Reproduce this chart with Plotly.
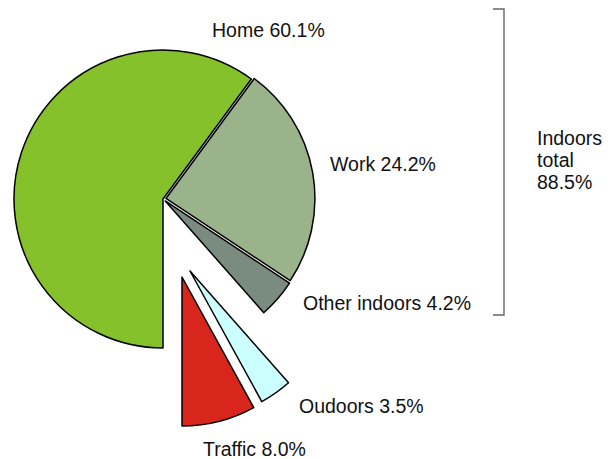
import plotly.graph_objects as go

# Share of time spent per micro-environment (%)
categories = ["Home", "Work", "Other indoors", "Oudoors", "Traffic"]
shares = [60.1, 24.2, 4.2, 3.5, 8.0]
colors = ["#85C12A", "#9BB38A", "#7A8C80", "#CCFFFF", "#D9261C"]
indoor_categories = ["Home", "Work", "Other indoors"]

W, H = 611, 459
R = 149  # pie radius in px


def domain_for(cx, cy, max_pull=0.0):
    """Pie domain (paper fractions) giving radius R centred at (cx, cy) px."""
    half = R * (1 + max_pull)
    return dict(x=[(cx - half) / W, (cx + half) / W],
                y=[1 - (cy + half) / H, 1 - (cy - half) / H])


def slice_style(visible):
    fill = [c if v else "rgba(0,0,0,0)" for c, v in zip(colors, visible)]
    width = [1.5 if v else 0 for v in visible]
    return dict(colors=fill, line=dict(color="black", width=width))


common = dict(labels=categories, values=shares, sort=False,
              direction="clockwise", rotation=180, textinfo="none",
              hoverinfo="label+percent", showlegend=False)

fig = go.Figure()

# Indoor slices around the main centre, Work and Other indoors nudged out
main_visible = [c in indoor_categories for c in categories]
fig.add_trace(go.Pie(**common, pull=[0, 0.02, 0.02, 0, 0],
                     marker=slice_style(main_visible),
                     domain=domain_for(163, 199, 0.02)))

# Outdoor slices, each detached from the pie on its own offset centre
offset_centres = {"Oudoors": (190, 271), "Traffic": (182, 277)}
for name, (cx, cy) in offset_centres.items():
    vis = [c == name for c in categories]
    fig.add_trace(go.Pie(**common, marker=slice_style(vis),
                         domain=domain_for(cx, cy)))

# Slice labels
label_pos = {
    "Home": (210, 30),
    "Work": (328, 164),
    "Other indoors": (301, 303),
    "Oudoors": (297, 406),
    "Traffic": (201, 449),
}
font = dict(family="Liberation Sans, Arial, sans-serif", size=19.5, color="#111")
for name, val in zip(categories, shares):
    x, y = label_pos[name]
    fig.add_annotation(text=f"{name} {val:.1f}%", x=x / W, y=1 - y / H,
                       xref="paper", yref="paper", xanchor="left",
                       yanchor="middle", showarrow=False, font=font)

# Indoors total bracket and label
indoor_total = sum(v for c, v in zip(categories, shares) if c in indoor_categories)
fig.add_shape(type="path", xref="paper", yref="paper",
              path=f"M {493/W} {1-9/H} L {504/W} {1-9/H} L {504/W} {1-315/H} L {493/W} {1-315/H}",
              line=dict(color="#666", width=1.4))
for i, line in enumerate(["Indoors", "total", f"{indoor_total:.1f}%"]):
    fig.add_annotation(text=line, x=535 / W, y=1 - (138 + 22 * i) / H,
                       xref="paper", yref="paper", xanchor="left",
                       yanchor="middle", showarrow=False, font=font)

fig.update_layout(width=W, height=H, margin=dict(l=0, r=0, t=0, b=0),
                  paper_bgcolor="white", plot_bgcolor="white")

fig.write_html("out.html")
